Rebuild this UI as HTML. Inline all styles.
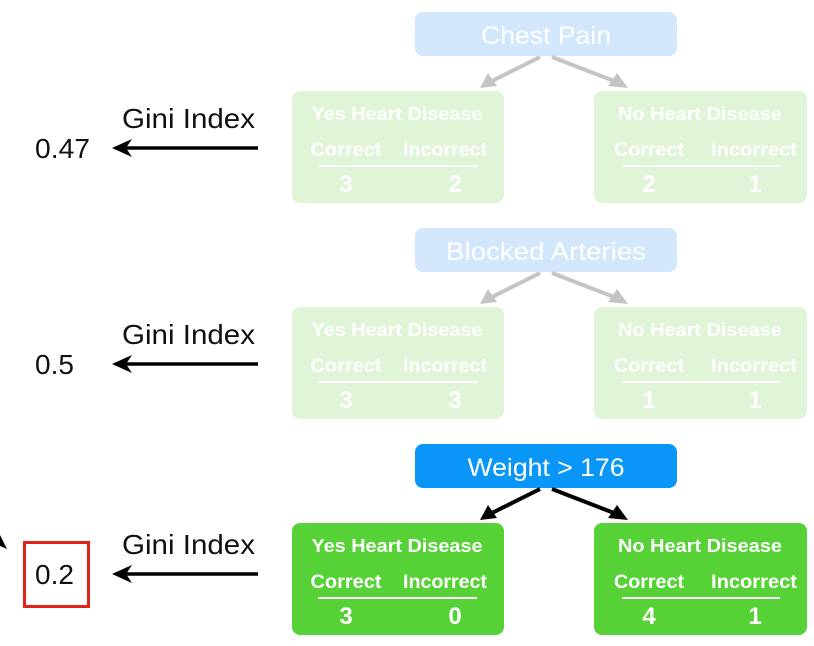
<!DOCTYPE html>
<html><head><meta charset="utf-8"><style>
html,body{margin:0;padding:0;background:#fff;}
svg{display:block;}
text{font-family:"Liberation Sans",Arial,sans-serif;}
.b{font-weight:bold;fill:#fff;}
</style></head><body>
<svg width="814" height="646" viewBox="0 0 814 646" xmlns="http://www.w3.org/2000/svg">
<g>
 <rect x="415" y="12" width="262" height="44" rx="8" fill="#d2e7fb"/>
 <text x="546" y="44" font-size="25" text-anchor="middle" fill="#fff" textLength="130" lengthAdjust="spacingAndGlyphs">Chest Pain</text>
 <line x1="540" y1="57" x2="492" y2="81" stroke="#c4c4c4" stroke-width="4"/>
 <polygon points="480,88 488,73 497,86" fill="#c4c4c4"/>
 <line x1="552" y1="57" x2="614" y2="81" stroke="#c4c4c4" stroke-width="4"/>
 <polygon points="628,88 608,86 617,73" fill="#c4c4c4"/>
 <rect x="292" y="91" width="212" height="112" rx="8" fill="#e0f5d8"/>
 <rect x="594" y="91" width="213" height="112" rx="8" fill="#e0f5d8"/>
 <text class="b" x="397" y="120" font-size="18.5" text-anchor="middle" textLength="171" lengthAdjust="spacingAndGlyphs">Yes Heart Disease</text>
 <text class="b" x="700" y="120" font-size="18.5" text-anchor="middle" textLength="164" lengthAdjust="spacingAndGlyphs">No Heart Disease</text>
 <text class="b" x="346" y="156" font-size="19.5" text-anchor="middle" textLength="71" lengthAdjust="spacingAndGlyphs">Correct</text>
 <text class="b" x="445" y="156" font-size="19.5" text-anchor="middle" textLength="84" lengthAdjust="spacingAndGlyphs">Incorrect</text>
 <text class="b" x="649" y="156" font-size="19.5" text-anchor="middle" textLength="70" lengthAdjust="spacingAndGlyphs">Correct</text>
 <text class="b" x="754" y="156" font-size="19.5" text-anchor="middle" textLength="86" lengthAdjust="spacingAndGlyphs">Incorrect</text>
 <line x1="318" y1="166" x2="477" y2="166" stroke="#fff" stroke-width="2"/>
 <line x1="622" y1="166" x2="780" y2="166" stroke="#fff" stroke-width="2"/>
 <text class="b" x="346" y="192" font-size="24" text-anchor="middle">3</text>
 <text class="b" x="455" y="192" font-size="24" text-anchor="middle">2</text>
 <text class="b" x="649" y="192" font-size="24" text-anchor="middle">2</text>
 <text class="b" x="755" y="192" font-size="24" text-anchor="middle">1</text>
 <text x="122" y="128" font-size="28" fill="#111" textLength="133" lengthAdjust="spacingAndGlyphs">Gini Index</text>
 <text x="35" y="158" font-size="28" fill="#111" textLength="55" lengthAdjust="spacingAndGlyphs">0.47</text>
 <line x1="125" y1="148" x2="258" y2="148" stroke="#000" stroke-width="3.5"/>
 <path d="M112,148 L132,139 L126,148 L132,157 Z" fill="#000"/>
</g>
<g transform="translate(0,216)">
 <rect x="415" y="12" width="262" height="44" rx="8" fill="#d2e7fb"/>
 <text x="546" y="44" font-size="25" text-anchor="middle" fill="#fff" textLength="200" lengthAdjust="spacingAndGlyphs">Blocked Arteries</text>
 <line x1="540" y1="57" x2="492" y2="81" stroke="#c4c4c4" stroke-width="4"/>
 <polygon points="480,88 488,73 497,86" fill="#c4c4c4"/>
 <line x1="552" y1="57" x2="614" y2="81" stroke="#c4c4c4" stroke-width="4"/>
 <polygon points="628,88 608,86 617,73" fill="#c4c4c4"/>
 <rect x="292" y="91" width="212" height="112" rx="8" fill="#e0f5d8"/>
 <rect x="594" y="91" width="213" height="112" rx="8" fill="#e0f5d8"/>
 <text class="b" x="397" y="120" font-size="18.5" text-anchor="middle" textLength="171" lengthAdjust="spacingAndGlyphs">Yes Heart Disease</text>
 <text class="b" x="700" y="120" font-size="18.5" text-anchor="middle" textLength="164" lengthAdjust="spacingAndGlyphs">No Heart Disease</text>
 <text class="b" x="346" y="156" font-size="19.5" text-anchor="middle" textLength="71" lengthAdjust="spacingAndGlyphs">Correct</text>
 <text class="b" x="445" y="156" font-size="19.5" text-anchor="middle" textLength="84" lengthAdjust="spacingAndGlyphs">Incorrect</text>
 <text class="b" x="649" y="156" font-size="19.5" text-anchor="middle" textLength="70" lengthAdjust="spacingAndGlyphs">Correct</text>
 <text class="b" x="754" y="156" font-size="19.5" text-anchor="middle" textLength="86" lengthAdjust="spacingAndGlyphs">Incorrect</text>
 <line x1="318" y1="166" x2="477" y2="166" stroke="#fff" stroke-width="2"/>
 <line x1="622" y1="166" x2="780" y2="166" stroke="#fff" stroke-width="2"/>
 <text class="b" x="346" y="192" font-size="24" text-anchor="middle">3</text>
 <text class="b" x="455" y="192" font-size="24" text-anchor="middle">3</text>
 <text class="b" x="649" y="192" font-size="24" text-anchor="middle">1</text>
 <text class="b" x="755" y="192" font-size="24" text-anchor="middle">1</text>
 <text x="122" y="128" font-size="28" fill="#111" textLength="133" lengthAdjust="spacingAndGlyphs">Gini Index</text>
 <text x="35" y="158" font-size="28" fill="#111">0.5</text>
 <line x1="125" y1="148" x2="258" y2="148" stroke="#000" stroke-width="3.5"/>
 <path d="M112,148 L132,139 L126,148 L132,157 Z" fill="#000"/>
</g>
<g transform="translate(0,432)">
 <rect x="415" y="12" width="262" height="44" rx="8" fill="#0a96f6"/>
 <text x="546" y="44" font-size="25" text-anchor="middle" fill="#fff" textLength="157" lengthAdjust="spacingAndGlyphs">Weight &gt; 176</text>
 <line x1="540" y1="57" x2="492" y2="81" stroke="#000" stroke-width="4"/>
 <polygon points="480,88 488,73 497,86" fill="#000"/>
 <line x1="552" y1="57" x2="614" y2="81" stroke="#000" stroke-width="4"/>
 <polygon points="628,88 608,86 617,73" fill="#000"/>
 <rect x="292" y="91" width="212" height="112" rx="8" fill="#56d236"/>
 <rect x="594" y="91" width="213" height="112" rx="8" fill="#56d236"/>
 <text class="b" x="397" y="120" font-size="18.5" text-anchor="middle" textLength="171" lengthAdjust="spacingAndGlyphs">Yes Heart Disease</text>
 <text class="b" x="700" y="120" font-size="18.5" text-anchor="middle" textLength="164" lengthAdjust="spacingAndGlyphs">No Heart Disease</text>
 <text class="b" x="346" y="156" font-size="19.5" text-anchor="middle" textLength="71" lengthAdjust="spacingAndGlyphs">Correct</text>
 <text class="b" x="445" y="156" font-size="19.5" text-anchor="middle" textLength="84" lengthAdjust="spacingAndGlyphs">Incorrect</text>
 <text class="b" x="649" y="156" font-size="19.5" text-anchor="middle" textLength="70" lengthAdjust="spacingAndGlyphs">Correct</text>
 <text class="b" x="754" y="156" font-size="19.5" text-anchor="middle" textLength="86" lengthAdjust="spacingAndGlyphs">Incorrect</text>
 <line x1="318" y1="166" x2="477" y2="166" stroke="#fff" stroke-width="2"/>
 <line x1="622" y1="166" x2="780" y2="166" stroke="#fff" stroke-width="2"/>
 <text class="b" x="346" y="192" font-size="24" text-anchor="middle">3</text>
 <text class="b" x="455" y="192" font-size="24" text-anchor="middle">0</text>
 <text class="b" x="649" y="192" font-size="24" text-anchor="middle">4</text>
 <text class="b" x="755" y="192" font-size="24" text-anchor="middle">1</text>
 <text x="122" y="122" font-size="28" fill="#111" textLength="133" lengthAdjust="spacingAndGlyphs">Gini Index</text>
 <text x="35" y="152" font-size="28" fill="#111">0.2</text>
 <line x1="125" y1="142" x2="258" y2="142" stroke="#000" stroke-width="3.5"/>
 <path d="M112,142 L132,133 L126,142 L132,151 Z" fill="#000"/>
 <rect x="24.5" y="110.5" width="64" height="64" fill="none" stroke="#e2231a" stroke-width="3"/>
 <polygon points="0,103 7,117 0,114" fill="#000"/>
</g>
</svg>
</body></html>
